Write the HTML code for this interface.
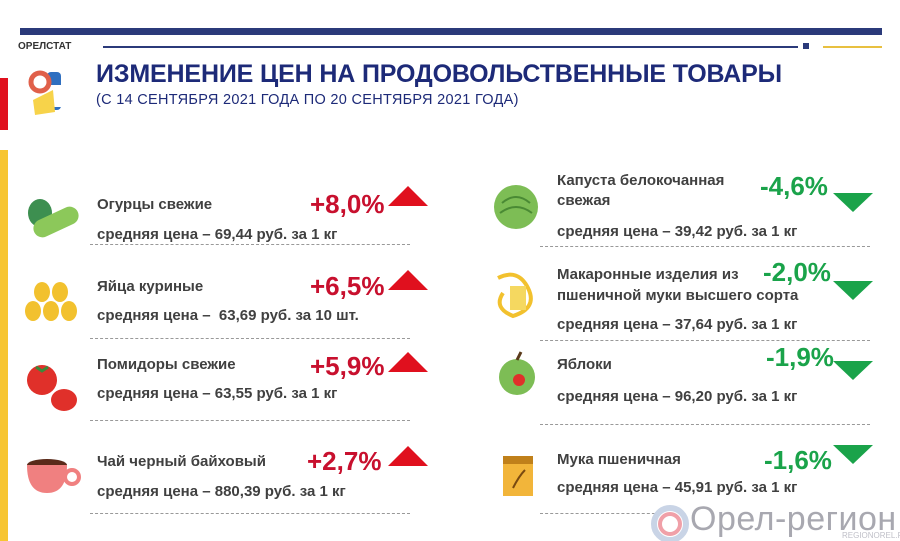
<!DOCTYPE html>
<html><head><meta charset="utf-8"><style>
body{margin:0;width:900px;height:541px;background:#fff;position:relative;overflow:hidden;font-family:"Liberation Sans",sans-serif}
.a{position:absolute;white-space:nowrap}
.n{font-size:15px;font-weight:bold;color:#404040}
.p{font-size:26px;font-weight:bold;color:#c8102e}
.g{font-size:26px;font-weight:bold;color:#1aa34a}
.d{position:absolute;border-top:1px dashed #999;height:0}
.up{position:absolute;width:0;height:0;border-left:20px solid transparent;border-right:20px solid transparent;border-bottom:20px solid #e0101e}
.dn{position:absolute;width:0;height:0;border-left:20px solid transparent;border-right:20px solid transparent;border-top:19px solid #1aa34a}
</style></head><body>
<div class="a" style="left:20px;top:28px;width:862px;height:7px;background:#2b3a7a"></div>
<div class="a" style="left:18px;top:41px;font-size:10px;font-weight:bold;color:#333">ОРЕЛСТАТ</div>
<div class="a" style="left:103px;top:46px;width:695px;height:2px;background:#2b3a7a"></div>
<div class="a" style="left:803px;top:43px;width:6px;height:6px;background:#2b3a7a"></div>
<div class="a" style="left:823px;top:46px;width:59px;height:2px;background:#e8c040"></div>
<div class="a" style="left:0;top:78px;width:8px;height:52px;background:#e0101e"></div>
<div class="a" style="left:0;top:150px;width:8px;height:391px;background:#f7c531"></div>
<svg class="a" style="left:25px;top:60px" width="50" height="60"><rect x="22" y="12" width="14" height="38" rx="4" fill="#2f6fc0"/><rect x="22" y="25" width="14" height="22" fill="#fff"/><circle cx="15" cy="22" r="9" fill="none" stroke="#e0604a" stroke-width="5"/><polygon points="8,40 28,30 30,52 10,55" fill="#f7d34a"/></svg>
<div class="a" style="left:96px;top:60px;font-size:25px;font-weight:bold;color:#1d2a78;letter-spacing:-0.15px">ИЗМЕНЕНИЕ ЦЕН НА ПРОДОВОЛЬСТВЕННЫЕ ТОВАРЫ</div>
<div class="a" style="left:96px;top:92px;font-size:14.5px;color:#1d2a78;letter-spacing:0.3px">(С 14 СЕНТЯБРЯ 2021 ГОДА ПО 20 СЕНТЯБРЯ 2021 ГОДА)</div>

<svg class="a" style="left:22px;top:193px" width="60" height="50"><ellipse cx="18" cy="20" rx="12" ry="14" fill="#3d8f50"/><rect x="10" y="20" width="48" height="18" rx="9" fill="#8cc85a" transform="rotate(-25 34 29)"/></svg>
<div class="a n" style="left:97px;top:196px">Огурцы свежие</div>
<div class="a p" style="left:310px;top:189px">+8,0%</div><div class="up" style="left:388px;top:186px"></div>
<div class="a n" style="left:97px;top:226px">средняя цена – 69,44 руб. за 1 кг</div>
<div class="d" style="left:90px;top:244px;width:320px"></div>

<svg class="a" style="left:22px;top:280px" width="60" height="45"><g fill="#f2c12e"><ellipse cx="20" cy="12" rx="8" ry="10"/><ellipse cx="38" cy="12" rx="8" ry="10"/><ellipse cx="11" cy="31" rx="8" ry="10"/><ellipse cx="29" cy="31" rx="8" ry="10"/><ellipse cx="47" cy="31" rx="8" ry="10"/></g></svg>
<div class="a n" style="left:97px;top:278px">Яйца куриные</div>
<div class="a p" style="left:310px;top:271px">+6,5%</div><div class="up" style="left:388px;top:270px"></div>
<div class="a n" style="left:97px;top:307px">средняя цена –&nbsp; 63,69 руб. за 10 шт.</div>
<div class="d" style="left:90px;top:338px;width:320px"></div>

<svg class="a" style="left:22px;top:360px" width="60" height="55"><circle cx="20" cy="20" r="15" fill="#e0302a"/><ellipse cx="42" cy="40" rx="13" ry="11" fill="#e0302a"/><path d="M14 7 l6 4 l6 -4" stroke="#3a8a3a" stroke-width="3" fill="none"/></svg>
<div class="a n" style="left:97px;top:356px">Помидоры свежие</div>
<div class="a p" style="left:310px;top:351px">+5,9%</div><div class="up" style="left:388px;top:352px"></div>
<div class="a n" style="left:97px;top:385px">средняя цена – 63,55 руб. за 1 кг</div>
<div class="d" style="left:90px;top:420px;width:320px"></div>

<svg class="a" style="left:22px;top:455px" width="60" height="45"><ellipse cx="25" cy="10" rx="20" ry="6" fill="#5a2a1a"/><path d="M5 10 Q5 38 25 38 Q45 38 45 10 Z" fill="#f08080"/><circle cx="50" cy="22" r="7" fill="none" stroke="#f08080" stroke-width="4"/></svg>
<div class="a n" style="left:97px;top:453px">Чай черный байховый</div>
<div class="a p" style="left:307px;top:446px">+2,7%</div><div class="up" style="left:388px;top:446px"></div>
<div class="a n" style="left:97px;top:483px">средняя цена – 880,39 руб. за 1 кг</div>
<div class="d" style="left:90px;top:513px;width:320px"></div>

<svg class="a" style="left:490px;top:183px" width="60" height="50"><circle cx="26" cy="24" r="22" fill="#7dbd55"/><path d="M12 20 Q26 8 40 20 M10 30 Q26 18 42 30" stroke="#4a8a34" stroke-width="2" fill="none"/></svg>
<div class="a n" style="left:557px;top:171px;line-height:20px">Капуста белокочанная<br>свежая</div>
<div class="a g" style="left:760px;top:171px">-4,6%</div><div class="dn" style="left:833px;top:193px"></div>
<div class="a n" style="left:557px;top:223px">средняя цена – 39,42 руб. за 1 кг</div>
<div class="d" style="left:540px;top:246px;width:330px"></div>

<svg class="a" style="left:488px;top:268px" width="60" height="55"><path d="M10 10 Q30 0 40 20 Q50 40 25 48 Q5 40 15 25" stroke="#f2c12e" stroke-width="4" fill="none"/><rect x="22" y="18" width="16" height="24" fill="#f5d860"/></svg>
<div class="a n" style="left:557px;top:264px;line-height:21px">Макаронные изделия из<br>пшеничной муки высшего сорта</div>
<div class="a g" style="left:763px;top:257px">-2,0%</div><div class="dn" style="left:833px;top:281px"></div>
<div class="a n" style="left:557px;top:316px">средняя цена – 37,64 руб. за 1 кг</div>
<div class="d" style="left:540px;top:340px;width:330px"></div>

<svg class="a" style="left:495px;top:350px" width="50" height="50"><circle cx="22" cy="27" r="18" fill="#7dbd55"/><circle cx="24" cy="30" r="6" fill="#e0302a"/><path d="M22 10 l4 -8" stroke="#5a3a1a" stroke-width="3"/></svg>
<div class="a n" style="left:557px;top:356px">Яблоки</div>
<div class="a g" style="left:766px;top:342px">-1,9%</div><div class="dn" style="left:833px;top:361px"></div>
<div class="a n" style="left:557px;top:388px">средняя цена – 96,20 руб. за 1 кг</div>
<div class="d" style="left:540px;top:424px;width:330px"></div>

<svg class="a" style="left:495px;top:450px" width="50" height="50"><rect x="8" y="6" width="30" height="40" fill="#f2b53a"/><rect x="8" y="6" width="30" height="8" fill="#c0801a"/><path d="M18 38 Q24 26 30 20" stroke="#7a4a10" stroke-width="2" fill="none"/></svg>
<div class="a n" style="left:557px;top:451px">Мука пшеничная</div>
<div class="a g" style="left:764px;top:445px">-1,6%</div><div class="dn" style="left:833px;top:445px"></div>
<div class="a n" style="left:557px;top:479px">средняя цена – 45,91 руб. за 1 кг</div>
<div class="d" style="left:540px;top:513px;width:120px"></div>

<svg class="a" style="left:650px;top:504px" width="40" height="37"><circle cx="20" cy="20" r="16" fill="none" stroke="#c9d4e6" stroke-width="6"/><circle cx="20" cy="20" r="10" fill="none" stroke="#f0a0a8" stroke-width="4"/></svg>
<div class="a" style="left:690px;top:500px;font-size:34px;color:#a8a8b0;letter-spacing:0.5px">Орел-регион</div>
<div class="a" style="left:842px;top:531px;font-size:8px;color:#c0c0c8">REGIONOREL.RU</div>
</body></html>
